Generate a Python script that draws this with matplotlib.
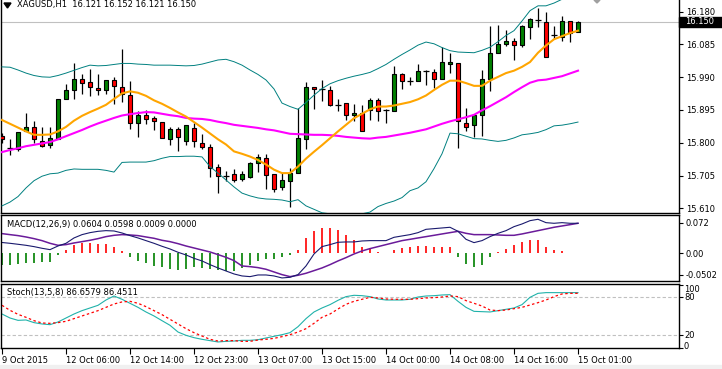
import numpy as np
import matplotlib
matplotlib.use("Agg")
import matplotlib.pyplot as plt
import matplotlib.transforms as mtransforms
from matplotlib.patches import Rectangle, Polygon

plt.rcParams['font.family'] = ['DejaVu Sans']
plt.rcParams['font.size'] = 6

# --- data (XAGUSD H1) ---
title_text = "XAGUSD,H1  16.121 16.152 16.121 16.150"
macd_text = "MACD(12,26,9) 0.0604 0.0598 0.0009 0.0000"
stoch_text = "Stoch(13,5,8) 86.6579 86.4511"
last_price = 16.150

opens = [15.820, 15.785, 15.782, 15.833, 15.845, 15.806, 15.793, 15.812, 15.926, 15.953,
         15.986, 15.976, 15.959, 15.953, 15.982, 15.961, 15.938, 15.857, 15.880, 15.872,
         15.860, 15.810, 15.839, 15.804, 15.843, 15.800, 15.787, 15.731, 15.704, 15.708,
         15.694, 15.702, 15.741, 15.756, 15.710, 15.671, 15.690, 15.713, 15.810, 15.963,
         15.955, 15.953, 15.910, 15.915, 15.880, 15.886, 15.895, 15.924, 15.895, 15.891,
         16.000, 15.980, 15.980, 16.007, 16.005, 15.984, 16.027, 16.031, 15.858, 15.851,
         15.880, 15.984, 16.060, 16.087, 16.096, 16.083, 16.135, 16.156, 16.150, 16.113,
         16.108, 16.152, 16.121]
highs = [15.828, 15.811, 15.832, 15.886, 15.862, 15.847, 15.847, 15.926, 15.971, 16.031,
         15.999, 16.013, 15.999, 15.982, 15.992, 16.071, 15.978, 15.891, 15.895, 15.878,
         15.860, 15.847, 15.847, 15.851, 15.857, 15.826, 15.795, 15.739, 15.719, 15.723,
         15.719, 15.744, 15.766, 15.766, 15.710, 15.712, 15.727, 15.901, 15.976, 15.963,
         15.982, 15.965, 15.926, 15.915, 15.911, 15.909, 15.930, 15.930, 15.899, 16.023,
         16.002, 15.992, 16.029, 16.011, 16.015, 16.077, 16.060, 16.031, 15.900, 15.881,
         16.011, 16.139, 16.142, 16.127, 16.104, 16.142, 16.162, 16.191, 16.179, 16.139,
         16.168, 16.154, 16.152]
lows = [15.799, 15.765, 15.777, 15.833, 15.799, 15.789, 15.785, 15.812, 15.926, 15.926,
        15.942, 15.936, 15.938, 15.940, 15.913, 15.918, 15.839, 15.818, 15.853, 15.837,
        15.814, 15.793, 15.777, 15.793, 15.787, 15.783, 15.702, 15.655, 15.688, 15.686,
        15.688, 15.698, 15.715, 15.665, 15.657, 15.663, 15.615, 15.713, 15.783, 15.899,
        15.922, 15.907, 15.891, 15.866, 15.864, 15.835, 15.866, 15.864, 15.857, 15.891,
        15.955, 15.967, 15.980, 15.967, 15.959, 15.984, 16.003, 15.785, 15.835, 15.816,
        15.820, 15.951, 16.060, 16.081, 16.040, 16.079, 16.102, 16.135, 16.050, 16.100,
        16.096, 16.092, 16.121]
closes = [15.811, 15.785, 15.831, 15.845, 15.810, 15.791, 15.814, 15.926, 15.953, 15.986,
          15.973, 15.961, 15.953, 15.982, 15.965, 15.940, 15.857, 15.880, 15.868, 15.862,
          15.814, 15.839, 15.816, 15.851, 15.804, 15.787, 15.727, 15.704, 15.704, 15.692,
          15.710, 15.741, 15.758, 15.706, 15.667, 15.692, 15.712, 15.814, 15.961, 15.955,
          15.955, 15.910, 15.910, 15.880, 15.886, 15.835, 15.924, 15.891, 15.895, 16.000,
          15.978, 15.980, 16.007, 16.007, 15.984, 16.034, 16.034, 15.862, 15.847, 15.881,
          15.984, 16.060, 16.087, 16.096, 16.083, 16.139, 16.158, 16.156, 16.050, 16.113,
          16.152, 16.118, 16.150]

ma_fast = [15.866, 15.855, 15.844, 15.833, 15.823, 15.823, 15.824, 15.833, 15.846, 15.864,
           15.878, 15.889, 15.899, 15.910, 15.927, 15.943, 15.949, 15.945, 15.936, 15.923,
           15.913, 15.901, 15.888, 15.876, 15.860, 15.844, 15.827, 15.810, 15.795, 15.775,
           15.768, 15.760, 15.750, 15.737, 15.722, 15.712, 15.712, 15.731, 15.754, 15.774,
           15.793, 15.813, 15.833, 15.852, 15.871, 15.884, 15.897, 15.905, 15.905, 15.908,
           15.913, 15.918, 15.926, 15.937, 15.953, 15.968, 15.980, 15.980, 15.973, 15.965,
           15.965, 15.980, 15.991, 16.002, 16.009, 16.020, 16.034, 16.061, 16.082, 16.100,
           16.109, 16.118, 16.125]
ma_slow = [15.773, 15.779, 15.784, 15.790, 15.794, 15.798, 15.802, 15.810, 15.819, 15.828,
           15.837, 15.847, 15.856, 15.864, 15.872, 15.879, 15.883, 15.886, 15.889, 15.888,
           15.884, 15.880, 15.877, 15.872, 15.870, 15.869, 15.866, 15.861, 15.857, 15.852,
           15.849, 15.846, 15.843, 15.839, 15.836, 15.831, 15.826, 15.825, 15.824, 15.823,
           15.823, 15.822, 15.820, 15.817, 15.815, 15.813, 15.812, 15.815, 15.817, 15.821,
           15.825, 15.829, 15.834, 15.839, 15.847, 15.855, 15.862, 15.868, 15.874, 15.881,
           15.894, 15.906, 15.919, 15.932, 15.947, 15.961, 15.974, 15.981, 15.983, 15.988,
           15.993, 16.001, 16.009]
bb_upper = [16.020, 16.019, 16.011, 16.002, 15.995, 15.991, 15.990, 15.995, 16.002, 16.010,
            16.018, 16.025, 16.023, 16.024, 16.027, 16.030, 16.030, 16.028, 16.027, 16.025,
            16.025, 16.025, 16.024, 16.023, 16.024, 16.028, 16.034, 16.040, 16.042, 16.035,
            16.025, 16.011, 15.998, 15.982, 15.956, 15.915, 15.905, 15.897, 15.917, 15.938,
            15.957, 15.971, 15.980, 15.987, 15.993, 15.998, 16.004, 16.015, 16.027, 16.042,
            16.056, 16.069, 16.083, 16.092, 16.087, 16.076, 16.067, 16.063, 16.062, 16.061,
            16.068, 16.077, 16.093, 16.111, 16.125, 16.153, 16.183, 16.197, 16.197, 16.205,
            16.216, 16.226, 16.234]
bb_lower = [15.617, 15.628, 15.644, 15.669, 15.690, 15.703, 15.710, 15.712, 15.720, 15.724,
            15.723, 15.723, 15.723, 15.720, 15.715, 15.743, 15.744, 15.744, 15.744, 15.748,
            15.755, 15.760, 15.760, 15.761, 15.761, 15.759, 15.731, 15.712, 15.692, 15.672,
            15.654, 15.646, 15.640, 15.637, 15.636, 15.634, 15.629, 15.635, 15.617, 15.607,
            15.597, 15.594, 15.592, 15.591, 15.591, 15.594, 15.599, 15.615, 15.624, 15.631,
            15.641, 15.661, 15.669, 15.687, 15.725, 15.768, 15.828, 15.826, 15.819, 15.812,
            15.811, 15.807, 15.804, 15.807, 15.814, 15.823, 15.826, 15.830, 15.838, 15.849,
            15.851, 15.855, 15.860]

macd_main = [0.0254, 0.0235, 0.0212, 0.0188, 0.0157, 0.0118, 0.0086, 0.0172, 0.0235, 0.0361,
             0.0439, 0.0486, 0.0517, 0.0533, 0.0525, 0.0478, 0.0416, 0.0361, 0.0298, 0.0235,
             0.0165, 0.0102, 0.0024, -0.0039, -0.0118, -0.0180, -0.0267, -0.0345, -0.0416, -0.0486,
             -0.0533, -0.0549, -0.0510, -0.0510, -0.0533, -0.0580, -0.0565, -0.0502, -0.0298, -0.0016,
             0.0157, 0.0204, 0.0259, 0.0267, 0.0267, 0.0290, 0.0298, 0.0298, 0.0298, 0.0376,
             0.0408, 0.0439, 0.0486, 0.0564, 0.0580, 0.0596, 0.0612, 0.0517, 0.0329, 0.0251,
             0.0298, 0.0392, 0.0470, 0.0533, 0.0627, 0.0690, 0.0768, 0.0800, 0.0721, 0.0706,
             0.0721, 0.0706, 0.0706]
macd_signal = [0.0463, 0.0439, 0.0416, 0.0384, 0.0345, 0.0298, 0.0235, 0.0188, 0.0204, 0.0243,
               0.0274, 0.0306, 0.0345, 0.0392, 0.0423, 0.0439, 0.0431, 0.0416, 0.0384, 0.0353,
               0.0306, 0.0274, 0.0227, 0.0172, 0.0125, 0.0078, 0.0031, -0.0031, -0.0094, -0.0172,
               -0.0298, -0.0314, -0.0337, -0.0376, -0.0439, -0.0502, -0.0549, -0.0517, -0.0470, -0.0408,
               -0.0345, -0.0267, -0.0180, -0.0102, -0.0016, 0.0055, 0.0110, 0.0157, 0.0204, 0.0251,
               0.0298, 0.0329, 0.0361, 0.0392, 0.0423, 0.0455, 0.0486, 0.0517, 0.0470, 0.0439,
               0.0439, 0.0439, 0.0431, 0.0423, 0.0423, 0.0455, 0.0494, 0.0533, 0.0572, 0.0612,
               0.0643, 0.0674, 0.0706]
macd_hist = [-0.0267, -0.0267, -0.0251, -0.0220, -0.0220, -0.0204, -0.0204, -0.0031, 0.0078, 0.0188,
             0.0235, 0.0235, 0.0220, 0.0220, 0.0157, 0.0063, -0.0078, -0.0172, -0.0235, -0.0298,
             -0.0329, -0.0361, -0.0392, -0.0361, -0.0329, -0.0345, -0.0361, -0.0392, -0.0408, -0.0408,
             -0.0345, -0.0267, -0.0172, -0.0125, -0.0125, -0.0094, -0.0047, 0.0078, 0.0361, 0.0533,
             0.0596, 0.0596, 0.0549, 0.0439, 0.0314, 0.0141, 0.0110, 0.0031, 0.0016, 0.0078,
             0.0125, 0.0157, 0.0172, 0.0172, 0.0141, 0.0157, 0.0141, -0.0078, -0.0251, -0.0329,
             -0.0267, -0.0094, 0.0031, 0.0110, 0.0188, 0.0267, 0.0314, 0.0314, 0.0157, 0.0078,
             0.0063, 0.0012, 0.0009]

stoch_main = [53.6, 47.3, 43.6, 44.2, 40.0, 37.9, 36.8, 41.0, 47.3, 53.6,
              58.9, 63.1, 67.3, 75.7, 82.0, 76.8, 70.5, 64.1, 56.8, 50.5,
              43.1, 35.8, 25.2, 20.0, 16.3, 13.7, 11.6, 9.5, 10.5, 11.0,
              12.1, 12.1, 13.1, 15.8, 18.4, 21.0, 24.2, 33.6, 46.3, 56.8,
              63.1, 68.4, 75.2, 81.0, 83.1, 82.5, 81.0, 77.3, 75.7, 75.7,
              75.7, 76.8, 80.4, 82.0, 82.5, 83.6, 84.1, 73.6, 64.1, 57.8,
              57.3, 56.8, 58.9, 61.0, 63.1, 68.4, 79.9, 86.2, 87.3, 87.3,
              87.3, 87.3, 87.3]
stoch_signal = [67.3, 59.4, 53.1, 48.4, 43.1, 39.4, 38.9, 40.0, 42.1, 46.3,
                50.5, 54.7, 58.9, 64.1, 69.4, 72.6, 73.6, 70.5, 65.2, 58.9,
                52.6, 45.2, 37.9, 30.5, 24.2, 18.9, 13.7, 11.0, 11.6, 11.6,
                10.5, 10.5, 12.6, 13.7, 15.2, 17.9, 21.0, 25.2, 30.5, 38.9,
                48.4, 53.6, 61.5, 68.9, 73.6, 76.8, 79.9, 78.9, 77.3, 76.8,
                76.8, 76.8, 77.8, 78.9, 79.4, 80.4, 82.0, 81.0, 74.7, 70.5,
                66.2, 59.9, 58.9, 59.9, 62.0, 64.1, 67.8, 71.5, 75.7, 81.0,
                85.2, 86.2, 86.2]

price_levels = [15.610, 15.705, 15.800, 15.895, 15.990, 16.085, 16.180]
macd_levels = [0.072, 0.0, -0.0502]
macd_level_labels = ["0.072", "0.00", "-0.0502"]
stoch_levels = [100, 80, 20, 0]
time_labels = ["9 Oct 2015", "12 Oct 06:00", "12 Oct 14:00", "12 Oct 23:00", "13 Oct 07:00",
               "13 Oct 15:00", "14 Oct 00:00", "14 Oct 08:00", "14 Oct 16:00", "15 Oct 01:00"]

# --- layout in pixels ---
W, H = 722, 369


def fbox(x0, y0, x1, y1):
    # pixel box (top-left origin) -> figure fraction
    return [x0 / W, 1 - y1 / H, (x1 - x0) / W, (y1 - y0) / H]


fig = plt.figure(figsize=(W / 100, H / 100), dpi=100)
fig.patches.append(Rectangle((0, 0), 1, 4.5 / H, transform=fig.transFigure,
                             color='#f0f0f0', zorder=0))

ax = fig.add_axes(fbox(1, 0, 679, 212.5))
am = fig.add_axes(fbox(1, 215, 679, 281))
st = fig.add_axes(fbox(1, 283.5, 679, 348))

xs = np.arange(len(closes))
for a in (ax, am, st):
    a.set_xlim(-0.125, 84.625)
    a.yaxis.tick_right()
    a.tick_params(axis='y', length=3, width=0.8, pad=2, labelsize=6)
    for s in a.spines.values():
        s.set_linewidth(1.0)
for a in (ax, am):
    a.set_xticks([])
ax.spines['top'].set_visible(False)

# --- candles ---
o, h, l, c = map(np.array, (opens, highs, lows, closes))
up = c > o
dn = c < o
dj = c == o
ax.axhline(last_price, color='#c0c0c0', lw=0.8, zorder=1)
ax.vlines(xs, l, h, color='k', lw=0.9, zorder=3)
ax.bar(xs[up], (c - o)[up], bottom=o[up], width=0.6, color='#008000',
       edgecolor='k', linewidth=0.8, zorder=4)
ax.bar(xs[dn], (o - c)[dn], bottom=c[dn], width=0.6, color='#ff0000',
       edgecolor='k', linewidth=0.8, zorder=4)
ax.hlines(c[dj], xs[dj] - 0.32, xs[dj] + 0.32, color='k', lw=0.9, zorder=4)

ax.plot(xs, bb_upper, color='#008080', lw=0.7, zorder=5)
ax.plot(xs, bb_lower, color='#008080', lw=0.7, zorder=5)
ax.plot(xs, ma_slow, color='#ff00ff', lw=1.5, zorder=5)
ax.plot(xs, ma_fast, color='#ffa500', lw=1.5, zorder=5)

ax.set_ylim(15.5978, 16.2139)
ax.set_yticks(price_levels)
ax.set_yticklabels(["%.3f" % v for v in price_levels])

# current price tag
fig.patches.append(Rectangle((679 / W, 1 - 26.5 / H), 43 / W, 9 / H,
                             transform=fig.transFigure, color='k', zorder=5))
fig.text(685 / W, 1 - 22 / H, "%.3f" % last_price, color='w', va='center',
         ha='left', fontsize=6, zorder=6)

# title + arrow
fig.patches.append(Polygon([(4 / W, 1 - 3 / H), (11 / W, 1 - 3 / H), (7.5 / W, 1 - 8 / H)],
                           closed=True, transform=fig.transFigure, color='k'))
fig.text(17 / W, 1 - 5 / H, title_text, va='center', ha='left', fontsize=6, color='k')
# chart shift marker
fig.patches.append(Polygon([(594 / W, 1.0), (600 / W, 1.0), (597 / W, 1 - 3 / H)],
                           closed=True, transform=fig.transFigure, color='#a0a0a0'))

# --- MACD ---
hist = np.array(macd_hist)
am.vlines(xs, 0, hist, colors=np.where(hist >= 0, '#ff0000', '#008000'), lw=1.2)
am.plot(xs, macd_signal, color='#6a1b9a', lw=1.1)
am.plot(xs, macd_main, color='#1a1a6e', lw=0.8)
am.set_ylim(-0.0652, 0.0901)
am.set_yticks(macd_levels)
am.set_yticklabels(macd_level_labels)
am.text(6 / 678, 0.86, macd_text, transform=am.transAxes, va='center', ha='left', fontsize=6)

# --- Stochastic ---
st.axhline(80, color='#c0c0c0', lw=0.8, ls=(0, (3, 2)))
st.axhline(20, color='#c0c0c0', lw=0.8, ls=(0, (3, 2)))
st.plot(xs, stoch_main, color='#20b2aa', lw=0.8)
st.plot(xs, stoch_signal, color='#ff0000', lw=0.9, ls=(0, (2, 2)))
st.set_ylim(0, 101.7)
st.set_yticks(stoch_levels)
st.set_yticklabels([])
# MT4 pushes the 100 / 0 labels inside the panel edges
lab_tr = mtransforms.blended_transform_factory(st.transAxes, st.transData)
for v, va, dy in zip(stoch_levels, ['top', 'center', 'center', 'bottom'], [0, 0, 0, -3]):
    tr = mtransforms.offset_copy(lab_tr, fig=fig, x=5, y=dy, units='dots')
    st.text(1.0, v, str(v), transform=tr, va=va, ha='left', fontsize=6, clip_on=False)
st.text(6 / 678, 0.86, stoch_text, transform=st.transAxes, va='center', ha='left', fontsize=6)

st.set_xticks(np.arange(0, len(closes), 8))
st.set_xticklabels(time_labels, ha='left')
st.tick_params(axis='x', length=4, width=0.8, pad=2, labelsize=6)

fig.savefig("out.png", dpi=100)
